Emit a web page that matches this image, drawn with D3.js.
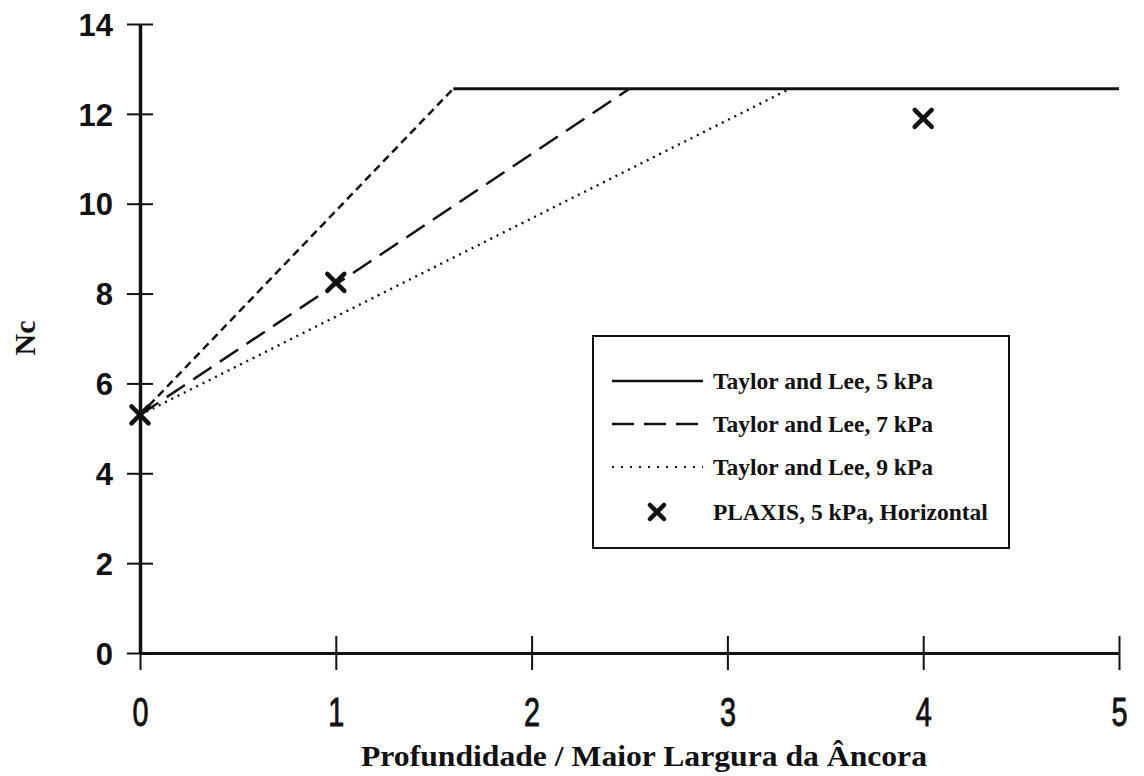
<!DOCTYPE html>
<html>
<head>
<meta charset="utf-8">
<script src="https://cdn.jsdelivr.net/npm/d3@7"></script>
<style>
  body { margin: 0; background: #fff; }
  svg { display: block; }
</style>
</head>
<body>
<div id="chart"></div>
<script>
// Data
const xTicks = [0, 1, 2, 3, 4, 5];
const yTicks = [0, 2, 4, 6, 8, 10, 12, 14];

// Taylor and Lee lines: start value at depth 0, limit value, and depth where limit is reached
const tlNames = ["Taylor and Lee, 5 kPa", "Taylor and Lee, 7 kPa", "Taylor and Lee, 9 kPa"];
const tlStart = [5.3, 5.3, 5.3];
const tlLimit = [12.56, 12.56, 12.56];
const tlBreak = [1.6, 2.5, 3.32];
const tlEnd = 5;

// PLAXIS points
const plaxisName = "PLAXIS, 5 kPa, Horizontal";
const plaxisDepth = [0, 1, 4];
const plaxisNc = [5.3, 8.25, 11.9];

const width = 1144, height = 776;

const svg = d3.select("#chart")
  .append("svg")
  .attr("width", width)
  .attr("height", height)
  .style("background", "#fff");

const x = d3.scaleLinear().domain([0, 5]).range([140, 1119]);
const y = d3.scaleLinear().domain([0, 14]).range([653, 24]);

// x axis
const xAxis = svg.append("g")
  .attr("transform", `translate(0,${y(0)})`)
  .call(d3.axisBottom(x).tickValues(xTicks).tickFormat(d3.format("d")).tickSizeOuter(0));
xAxis.select(".domain").attr("stroke", "#111").attr("stroke-width", 3);
xAxis.selectAll(".tick line").attr("y1", -17).attr("y2", 17).attr("stroke", "#111").attr("stroke-width", 2);
xAxis.selectAll(".tick text")
  .attr("y", 59).attr("dy", "0.36em")
  .attr("transform", "scale(0.72,1)")
  .style("font-family", "'Liberation Sans', Arial, sans-serif")
  .style("font-size", "40px")
  .attr("fill", "#111")
  .attr("stroke", "#111")
  .attr("stroke-width", 0.9);

// y axis
const yAxis = svg.append("g")
  .attr("transform", `translate(${x(0)},0)`)
  .call(d3.axisLeft(y).tickValues(yTicks).tickSizeOuter(0));
yAxis.select(".domain").attr("stroke", "#111").attr("stroke-width", 3.5);
yAxis.selectAll(".tick line").attr("x1", -13).attr("x2", 13).attr("stroke", "#111").attr("stroke-width", 2);
yAxis.selectAll(".tick text")
  .attr("x", -27).attr("dy", "0.36em")
  .style("font-family", "'Liberation Sans', Arial, sans-serif")
  .style("font-weight", "bold")
  .style("font-size", "31px")
  .attr("fill", "#111");

// axis titles
svg.append("text")
  .attr("x", 644).attr("y", 766)
  .attr("text-anchor", "middle")
  .attr("textLength", 566).attr("lengthAdjust", "spacingAndGlyphs")
  .style("font-family", "'Liberation Serif', 'Times New Roman', serif")
  .style("font-weight", "bold")
  .style("font-size", "29px")
  .attr("fill", "#111")
  .text("Profundidade / Maior Largura da Âncora");

svg.append("text")
  .attr("transform", "translate(35,338) rotate(-90)")
  .attr("text-anchor", "middle")
  .style("font-family", "'Liberation Serif', 'Times New Roman', serif")
  .style("font-weight", "bold")
  .style("font-size", "30px")
  .attr("fill", "#111")
  .text("Nc");

// line styles
const dashes = ["8,5", "22,10", "2,5"];
const line = d3.line().x(d => x(d[0])).y(d => y(d[1]));

// limit plateau (solid)
svg.append("path")
  .datum([[tlBreak[0], tlLimit[0]], [tlEnd, tlLimit[0]]])
  .attr("d", line)
  .attr("fill", "none")
  .attr("stroke", "#111")
  .attr("stroke-width", 3);

// rising parts
tlNames.forEach((name, i) => {
  svg.append("path")
    .datum([[0, tlStart[i]], [tlBreak[i], tlLimit[i]]])
    .attr("d", line)
    .attr("fill", "none")
    .attr("stroke", "#111")
    .attr("stroke-width", i === 2 ? 2.4 : 2.5)
    .attr("stroke-dasharray", dashes[i]);
});

// X markers
const cross = s => `M${-s},${-s}L${s},${s}M${-s},${s}L${s},${-s}`;
svg.selectAll(".plaxis")
  .data(plaxisDepth.map((d, i) => [d, plaxisNc[i]]))
  .enter().append("path")
  .attr("class", "plaxis")
  .attr("transform", d => `translate(${x(d[0])},${y(d[1])})`)
  .attr("d", cross(8.5))
  .attr("stroke", "#111")
  .attr("stroke-width", 4.5)
  .attr("stroke-linecap", "round");

// legend
const legend = svg.append("g");
legend.append("rect")
  .attr("x", 593).attr("y", 336)
  .attr("width", 416).attr("height", 212)
  .attr("fill", "#fff")
  .attr("stroke", "#111")
  .attr("stroke-width", 2);

const rowY = [381, 424, 467, 512];
const legendFont = sel => sel
  .style("font-family", "'Liberation Serif', 'Times New Roman', serif")
  .style("font-weight", "bold")
  .style("font-size", "23.5px")
  .attr("fill", "#111");

const legendDashes = [null, "22,10", "2,7"];
tlNames.forEach((name, i) => {
  legend.append("line")
    .attr("x1", 612).attr("x2", 703)
    .attr("y1", rowY[i]).attr("y2", rowY[i])
    .attr("stroke", "#111")
    .attr("stroke-width", i === 2 ? 2.2 : 2.5)
    .attr("stroke-dasharray", legendDashes[i]);
  legend.append("text")
    .attr("x", 713).attr("y", rowY[i]).attr("dy", "0.35em")
    .call(legendFont)
    .text(name);
});

legend.append("path")
  .attr("transform", `translate(657,${rowY[3]})`)
  .attr("d", cross(7))
  .attr("stroke", "#111")
  .attr("stroke-width", 4.5)
  .attr("stroke-linecap", "round");
legend.append("text")
  .attr("x", 713).attr("y", rowY[3]).attr("dy", "0.35em")
  .call(legendFont)
  .text(plaxisName);
</script>
</body>
</html>
